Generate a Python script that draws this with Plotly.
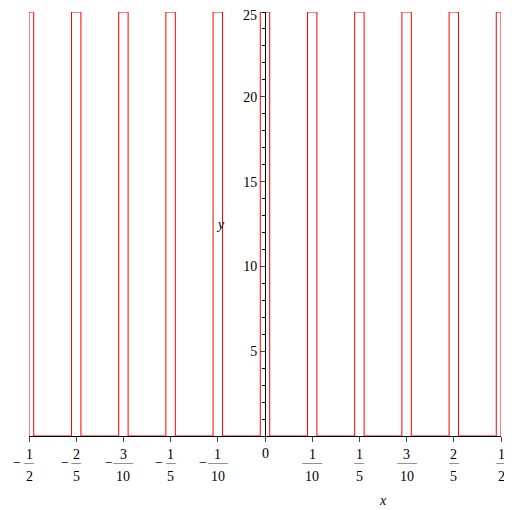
import plotly.graph_objects as go

# pulse train: centres, half width, height
centres = [-0.5, -0.4, -0.3, -0.2, -0.1, 0.0, 0.1, 0.2, 0.3, 0.4, 0.5]
half_w = 0.01
height = 25
tick_vals = [-0.5, -0.4, -0.3, -0.2, -0.1, 0, 0.1, 0.2, 0.3, 0.4, 0.5]
tick_num = ["1", "2", "3", "1", "1", "0", "1", "1", "3", "2", "1"]
tick_den = ["2", "5", "10", "5", "10", "", "10", "5", "10", "5", "2"]
y_ticks = [5, 10, 15, 20, 25]

xs, ys = [-0.5], [0]
for c in centres:
    a, b = max(c - half_w, -0.5), min(c + half_w, 0.5)
    xs += [a, a, b, b]
    ys += [0, height, height, 0]
xs.append(0.5); ys.append(0)

fig = go.Figure(go.Scatter(x=xs, y=ys, mode="lines",
                           line=dict(color="#ff0000", width=1), hoverinfo="skip"))

font = dict(family="Liberation Serif", size=14, color="black")
ann = []
for v, n, d in zip(tick_vals, tick_num, tick_den):
    if d == "":
        ann.append(dict(x=v, y=-0.02, xref="x", yref="paper", text=n, showarrow=False,
                        yanchor="top", font=font))
        continue
    ann.append(dict(x=v, y=-0.022, xref="x", yref="paper", text=n, showarrow=False,
                    yanchor="top", font=font))
    ann.append(dict(x=v, y=-0.062, xref="x", yref="paper", text="\u2015" * (1 if len(d) == 1 else 2),
                    showarrow=False, yanchor="middle", font=dict(family="Liberation Serif", size=10)))
    ann.append(dict(x=v, y=-0.073, xref="x", yref="paper", text=d, showarrow=False,
                    yanchor="top", font=font))
    if v < 0:
        hw = 0.008 if len(d) == 1 else 0.014
        # paper coords so the minus of -1/2 is not hidden outside the x range
        ann.append(dict(x=v + 0.5 - hw - 0.004, y=-0.062, xref="paper", yref="paper", text="\u2212",
                        showarrow=False, xanchor="right", yanchor="middle", font=font))
ann.append(dict(x=0.25, y=-0.13, xref="x", yref="paper", text="<i>x</i>", showarrow=False,
                yanchor="top", font=font))
ann.append(dict(x=-0.095, y=12.5, xref="x", yref="y", text="<i>y</i>", showarrow=False, font=font))
ann.append(dict(x=-0.012, y=25, xref="x", yref="y", text=str(y_ticks[-1]), showarrow=False,
                xanchor="right", yanchor="top", yshift=6, font=font))

fig.update_layout(
    width=504, height=502, margin=dict(l=21, r=11, t=4, b=74, autoexpand=False),
    paper_bgcolor="white", plot_bgcolor="white", showlegend=False,
    annotations=ann,
    xaxis=dict(range=[-0.5, 0.5], showgrid=False, zeroline=False, showticklabels=False,
               tickvals=tick_vals, ticks="outside", ticklen=5, showline=True, automargin=False,
               linecolor="black", linewidth=1, anchor="y"),
    yaxis=dict(range=[0, 25], showgrid=False, zeroline=False, anchor="free", position=0.5,
               tickvals=y_ticks[:-1], ticks="outside", ticklen=5, automargin=False,
               showline=True, linecolor="black", linewidth=1,
               tickfont=font,
               minor=dict(tickvals=list(range(1, 26)), ticks="outside", ticklen=3, tickcolor="black")),
)
fig.write_html("out.html")
